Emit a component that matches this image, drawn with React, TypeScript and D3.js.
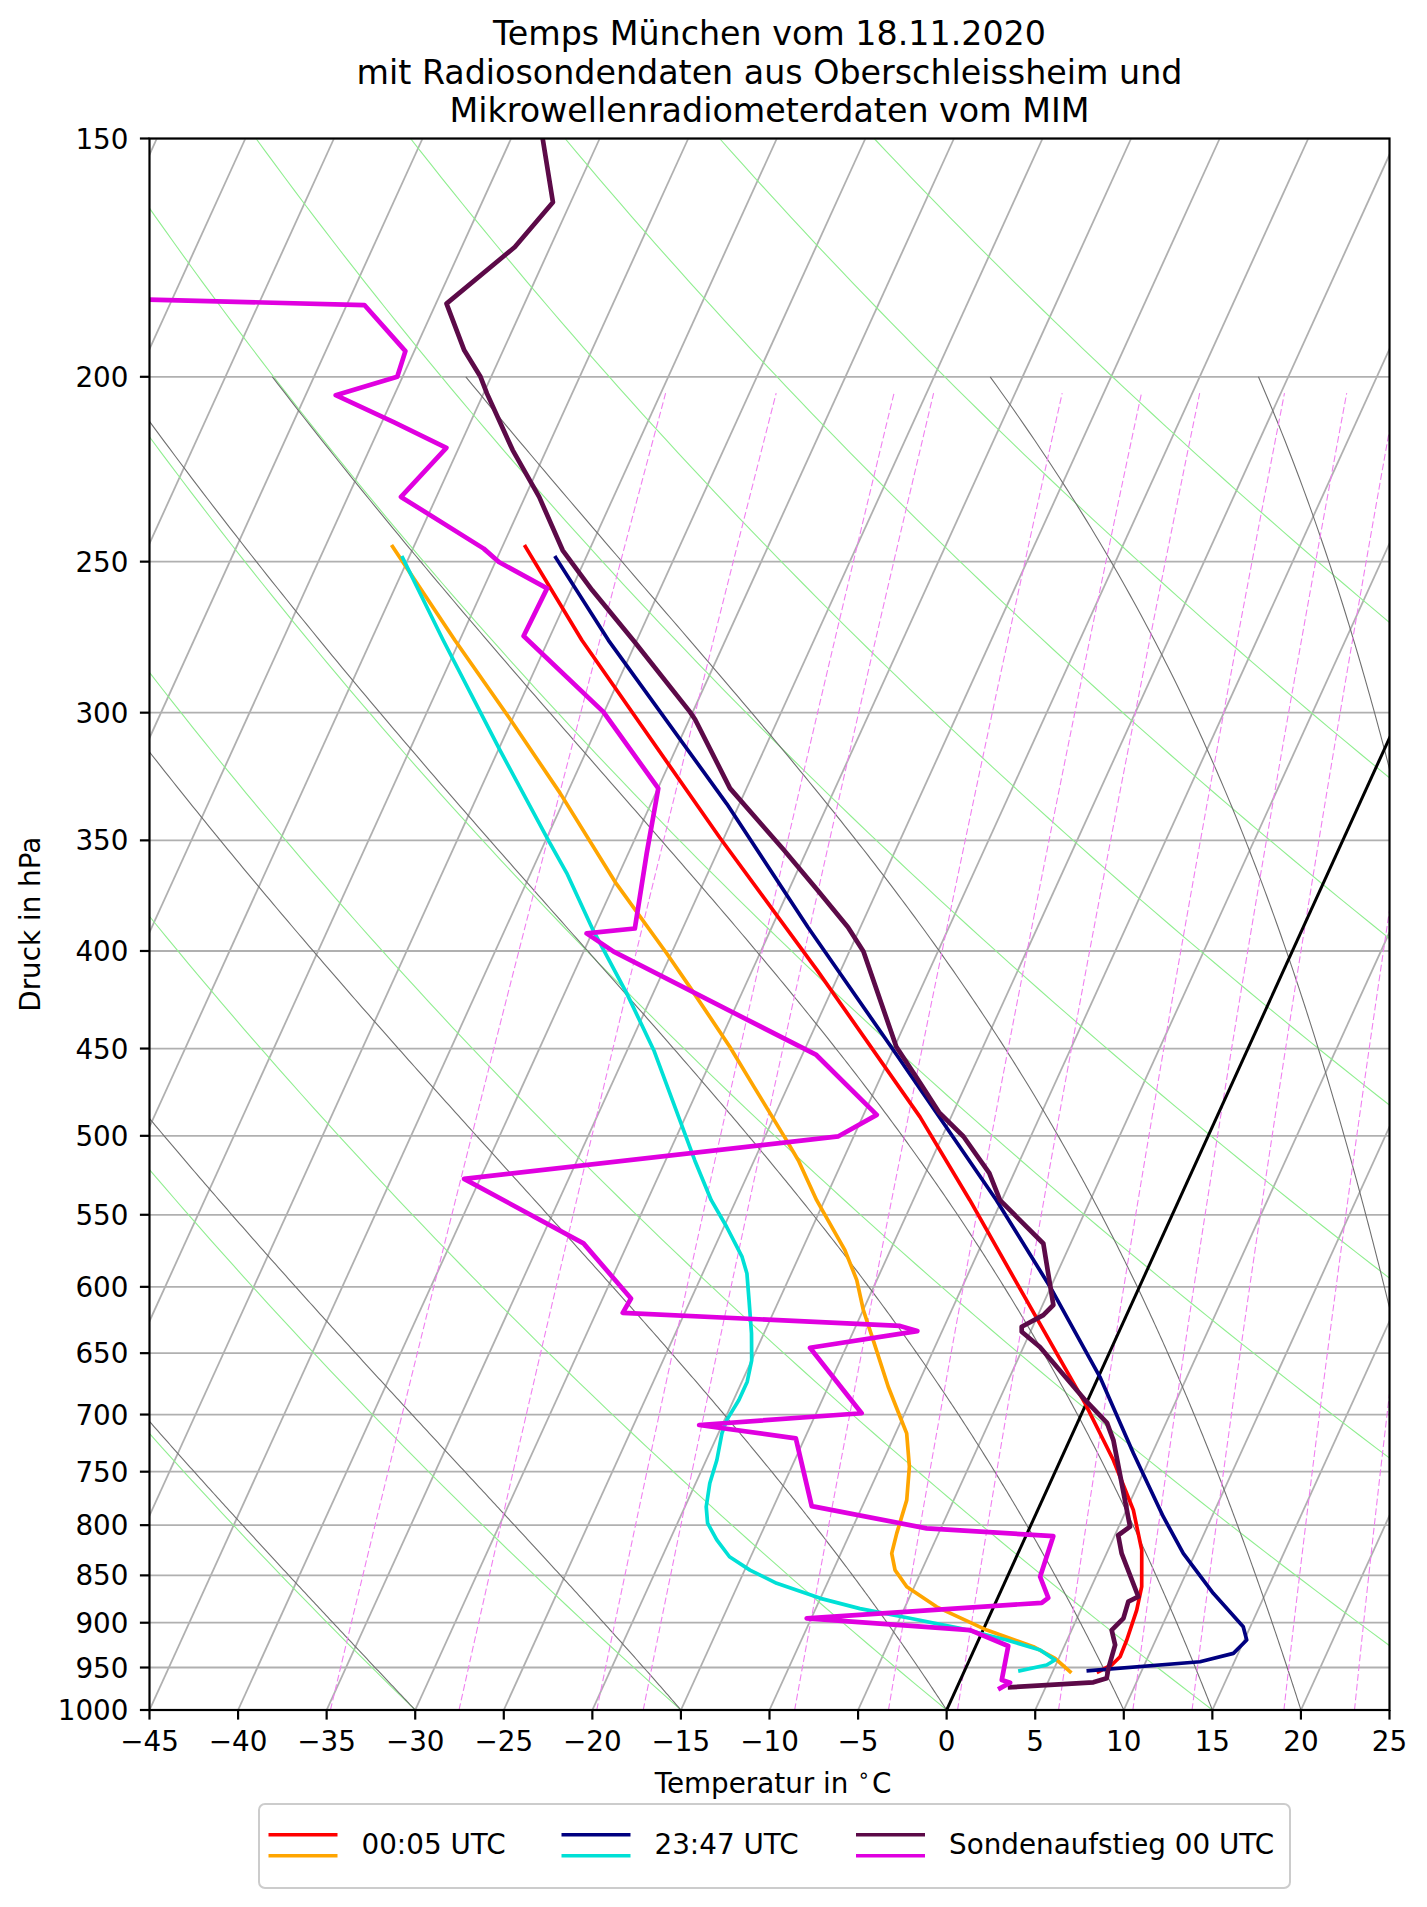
import React from 'react';
import * as d3 from 'd3';

// ---------- figure geometry ----------
const FIG_W = 1427;
const FIG_H = 1907;
const PLOT = { left: 149.5, right: 1389.5, top: 138.5, bottom: 1710 };

// ---------- axis ticks ----------
const tempTicks = [-45, -40, -35, -30, -25, -20, -15, -10, -5, 0, 5, 10, 15, 20, 25];
const pressureTicks = [150, 200, 250, 300, 350, 400, 450, 500, 550, 600, 650, 700, 750, 800, 850, 900, 950, 1000];
const isothermGrid = [-90, -85, -80, -75, -70, -65, -60, -55, -50, -45, -40, -35, -30, -25, -20, -15, -10, -5, 0, 5, 10, 15, 20, 25];

// ---------- thermodynamic reference lines ----------
const dryAdiabatTemps = [-30, -15, 0, 15, 30, 45, 60, 75, 90, 105, 120];
const moistAdiabatTemps = [-30, -15, 0, 10, 15, 20, 30, 35];
const mixingRatios = [0.2, 0.4, 0.8, 1, 2, 3, 4, 6, 8, 10, 14, 18];

// ---------- data: microwave radiometer 00:05 UTC ----------
const mwr0005TempP = [245.5, 274.9, 348.8, 409.2, 488.7, 540.4, 600, 690.6, 739.5, 785.6, 824.4, 861.7, 886.4, 919.0, 937.7, 947.1, 954.8];
const mwr0005TempT = [-53.7, -48.1, -35.25, -26.36, -16.76, -11.8, -6.8, -0.07, 2.98, 5.4, 6.9, 7.84, 8.16, 8.37, 8.42, 8.16, 7.58];
const mwr0005DewP = [245.5, 274.9, 302.5, 330.6, 368.8, 401.1, 417.7, 449.0, 471.3, 502.6, 515.1, 540.4, 574.0, 595.1, 617.0, 639.8, 676.9, 701.9, 716.1, 745.5, 776.2, 808.0, 827.7, 844.6, 861.7, 882.9, 908.0, 926.4, 939.5, 954.8];
const mwr0005DewT = [-61.2, -55.27, -50.1, -45.4, -39.9, -35.27, -33.1, -29.3, -26.9, -23.7, -22.5, -20.45, -17.57, -16.13, -14.99, -13.66, -11.61, -10.17, -9.37, -8.36, -7.65, -7.36, -7.13, -6.51, -5.42, -3.22, 0.21, 3.27, 4.79, 5.98];

// ---------- data: microwave radiometer 23:47 UTC ----------
const mwr2347TempP = [248.8, 274.9, 335.0, 388.7, 453.5, 540.4, 599.9, 668.8, 733.5, 791.9, 827.7, 868.6, 904.3, 919.0, 933.9, 943.4, 953.7];
const mwr2347TempT = [-51.7, -46.6, -35.7, -27.96, -19.66, -10.3, -5.05, 0.08, 3.94, 7.26, 9.33, 12.05, 14.6, 15.14, 14.73, 13.06, 6.99];
const mwr2347DewP = [248.8, 274.9, 313.9, 349.9, 364.1, 390.2, 420.9, 450.9, 515.1, 540.4, 558.0, 578.7, 590.4, 609.6, 634.7, 655.6, 672.8, 687.8, 704.5, 716.1, 739.5, 760.6, 782.4, 798.1, 814.4, 831.1, 844.6, 858.2, 873.9, 884.8, 895.2, 906.1, 919.0, 930.1, 941.4, 947.1, 953.7];
const mwr2347DewT = [-60.35, -55.93, -49.9, -44.86, -42.97, -40.0, -36.5, -33.5, -28.35, -26.4, -24.85, -23.2, -22.5, -21.7, -20.7, -20.0, -19.7, -19.7, -19.87, -19.8, -19.4, -19.2, -18.8, -18.3, -17.35, -16.2, -14.7, -12.85, -10.0, -7.5, -4.43, -1.34, 1.59, 3.73, 4.83, 4.49, 3.13];

// ---------- data: radiosonde 00 UTC ----------
const sondeTempP = [150.1, 162.0, 171.0, 183.1, 193.7, 200, 204.1, 218.5, 231.2, 246.6, 258.8, 274.9, 299.7, 302.5, 328.7, 353.9, 371.4, 388.7, 400.3, 449.0, 469.3, 486.0, 500.4, 523.0, 540.4, 569.4, 613.3, 620.8, 629.6, 633.4, 645.2, 687.8, 707.1, 721.9, 801.5, 809.8, 827.7, 872.2, 877.4, 895.2, 908.0, 924.5, 950.9, 962.5, 967.1, 972.9];
const sondeTempT = [-63.2, -61.0, -62.0, -64.4, -62.2, -60.6, -59.8, -56.9, -54.2, -51.5, -48.8, -45.2, -40.16, -39.67, -35.93, -31.34, -28.42, -25.7, -24.2, -19.9, -17.6, -15.8, -13.8, -11.4, -10.1, -6.54, -4.39, -4.7, -5.62, -5.49, -4.07, -0.16, 1.67, 2.47, 5.64, 5.19, 5.85, 7.91, 7.47, 7.62, 7.26, 7.84, 8.06, 8.22, 7.57, 3.0];
const sondeDewP = [181.1, 183.4, 193.9, 200, 204.5, 211.3, 217.9, 231.2, 246.1, 250.1, 258.2, 273.5, 299.7, 328.7, 355.6, 389.3, 391.6, 400.3, 453.5, 487.5, 500.3, 526.7, 569.3, 608.5, 619.1, 629.0, 632.9, 645.8, 698.9, 708.9, 720.4, 781.8, 803.1, 810.6, 851.4, 873.3, 878.6, 895.2, 908.0, 925.6, 964.4, 967.6, 974.1];
const sondeDewT = [-92.7, -69.0, -65.5, -65.3, -68.3, -64.3, -60.7, -62.0, -56.0, -54.8, -51.4, -51.5, -45.05, -39.98, -38.96, -37.7, -40.3, -38.3, -24.2, -19.25, -20.86, -40.9, -32.5, -28.4, -28.5, -12.51, -11.4, -17.03, -12.43, -21.3, -15.5, -12.86, -5.8, 1.55, 1.85, 2.85, 2.61, -10.26, -0.73, 1.83, 2.34, 2.88, 2.46];

// ---------- legend ----------
const legendLabels = ['00:05 UTC', '23:47 UTC', 'Sondenaufstieg 00 UTC'];
const legendTempColors = ['#ff0000', '#000080', '#5c0a48'];
const legendDewColors = ['#ffa500', '#00e0d6', '#e000e0'];

// ---------- scales ----------
const xScale = d3.scaleLinear().domain([-45, 25]).range([PLOT.left, PLOT.right]);
const yScale = d3.scaleLog().domain([1000, 150]).range([PLOT.bottom, PLOT.top]);
const SKEW = Math.tan((30 * Math.PI) / 180) * (PLOT.right - PLOT.left) / (PLOT.bottom - PLOT.top);
const sx = (T: number, p: number) => xScale(T) + (PLOT.bottom - yScale(p)) * SKEW;

// ---------- thermodynamics ----------
const Rd = 287.04749;
const Cpd = 1004.6662;
const Lv = 2.50084e6;
const EPS = 0.6219569;
const KAPPA = Rd / Cpd;

const satVap = (Tk: number) => {
  const t = Tk - 273.15;
  return 6.112 * Math.exp((17.67 * t) / (t + 243.5));
};
const satMix = (p: number, Tk: number) => {
  const e = satVap(Tk);
  return (EPS * e) / (p - e);
};
const moistGrad = (p: number, Tk: number) => {
  const rs = satMix(p, Tk);
  return (Rd * Tk + Lv * rs) / (Cpd + (Lv * Lv * rs * EPS) / (Rd * Tk * Tk)) / p;
};
function moistAdiabat(t0: number, pTop: number): [number, number][] {
  const pts: [number, number][] = [];
  let T = t0 + 273.15;
  let p = 1000;
  pts.push([p, t0]);
  while (p > pTop + 1e-9) {
    const h = Math.max(-2, pTop - p);
    const k1 = moistGrad(p, T);
    const k2 = moistGrad(p + h / 2, T + (h / 2) * k1);
    const k3 = moistGrad(p + h / 2, T + (h / 2) * k2);
    const k4 = moistGrad(p + h, T + h * k3);
    T += (h / 6) * (k1 + 2 * k2 + 2 * k3 + k4);
    p += h;
    pts.push([p, T - 273.15]);
  }
  return pts;
}
const logLevels = (p0: number, p1: number, n: number) =>
  d3.range(n + 1).map((i) => p0 * Math.pow(p1 / p0, i / n));
function dryAdiabat(t0: number): [number, number][] {
  return logLevels(1000, 150, 120).map((p) => [p, (t0 + 273.15) * Math.pow(p / 1000, KAPPA) - 273.15]);
}
function mixingLine(wgkg: number, pTop: number): [number, number][] {
  const w = wgkg / 1000;
  return logLevels(1000, pTop, 60).map((p) => {
    const e = (w * p) / (EPS + w);
    const l = Math.log(e / 6.112);
    return [p, (243.5 * l) / (17.67 - l)];
  });
}

const pathGen = d3
  .line<[number, number]>()
  .x((d) => sx(d[1], d[0]))
  .y((d) => yScale(d[0]));

const zipPT = (P: number[], T: number[]): [number, number][] => P.map((p, i) => [p, T[i]]);

const FONT = "'DejaVu Sans', 'Liberation Sans', sans-serif";
const TICK_FS = 27.8;
const TITLE_FS = 33.3;
const minus = (v: number) => (v < 0 ? '\u2212' + Math.abs(v) : String(v));

export default function App() {
  const series = [
    { d: zipPT(mwr0005TempP, mwr0005TempT), c: legendTempColors[0], w: 3.7 },
    { d: zipPT(mwr0005DewP, mwr0005DewT), c: legendDewColors[0], w: 3.7 },
    { d: zipPT(mwr2347TempP, mwr2347TempT), c: legendTempColors[1], w: 3.7 },
    { d: zipPT(mwr2347DewP, mwr2347DewT), c: legendDewColors[1], w: 3.7 },
    { d: zipPT(sondeTempP, sondeTempT), c: legendTempColors[2], w: 4.7 },
    { d: zipPT(sondeDewP, sondeDewT), c: legendDewColors[2], w: 4.7 },
  ];
  const cx = (PLOT.left + PLOT.right) / 2;
  const cy = (PLOT.top + PLOT.bottom) / 2;
  const legendX = [268.5, 561.5, 856];

  return (
    <svg
      width={FIG_W}
      height={FIG_H}
      viewBox={`0 0 ${FIG_W} ${FIG_H}`}
      style={{ position: 'absolute', left: 0, top: 0, background: '#fff' }}
      fontFamily={FONT}
    >
      <defs>
        <clipPath id="plotClip">
          <rect x={PLOT.left} y={PLOT.top} width={PLOT.right - PLOT.left} height={PLOT.bottom - PLOT.top} />
        </clipPath>
      </defs>
      <rect x={0} y={0} width={FIG_W} height={FIG_H} fill="#fff" />

      <g clipPath="url(#plotClip)">
        {pressureTicks.map((p) => (
          <line key={'hg' + p} x1={PLOT.left} x2={PLOT.right} y1={yScale(p)} y2={yScale(p)} stroke="#b0b0b0" strokeWidth={1.8} />
        ))}
        {isothermGrid.map((t) => (
          <line key={'ig' + t} x1={sx(t, 1000)} y1={yScale(1000)} x2={sx(t, 150)} y2={yScale(150)} stroke="#b0b0b0" strokeWidth={1.8} />
        ))}
        {dryAdiabatTemps.map((t) => (
          <path key={'da' + t} d={pathGen(dryAdiabat(t)) || ''} fill="none" stroke="#90ee90" strokeWidth={1.1} />
        ))}
        {moistAdiabatTemps.map((t) => (
          <path key={'ma' + t} d={pathGen(moistAdiabat(t, 200)) || ''} fill="none" stroke="#707070" strokeWidth={1.1} />
        ))}
        {mixingRatios.map((w) => (
          <path key={'mr' + w} d={pathGen(mixingLine(w, 204)) || ''} fill="none" stroke="#f080f0" strokeWidth={1.1} strokeDasharray="6.8 3" />
        ))}
        <line x1={sx(0, 1000)} y1={yScale(1000)} x2={sx(0, 150)} y2={yScale(150)} stroke="#000" strokeWidth={3} />
        {series.map((s, i) => (
          <path key={'s' + i} d={pathGen(s.d) || ''} fill="none" stroke={s.c} strokeWidth={s.w} strokeLinejoin="round" strokeLinecap="square" />
        ))}
      </g>

      <rect x={PLOT.left} y={PLOT.top} width={PLOT.right - PLOT.left} height={PLOT.bottom - PLOT.top} fill="none" stroke="#000" strokeWidth={2.2} />

      {tempTicks.map((t) => (
        <g key={'xt' + t}>
          <line x1={xScale(t)} x2={xScale(t)} y1={PLOT.bottom} y2={PLOT.bottom + 9.6} stroke="#000" strokeWidth={2.2} />
          <text x={xScale(t)} y={1751} fontSize={TICK_FS} textAnchor="middle" fill="#000">
            {minus(t)}
          </text>
        </g>
      ))}
      {pressureTicks.map((p) => (
        <g key={'yt' + p}>
          <line x1={PLOT.left - 9.6} x2={PLOT.left} y1={yScale(p)} y2={yScale(p)} stroke="#000" strokeWidth={2.2} />
          <text x={128.5} y={yScale(p) + 10} fontSize={TICK_FS} textAnchor="end" fill="#000">
            {p}
          </text>
        </g>
      ))}

      <text x={773} y={1793} fontSize={TICK_FS} textAnchor="middle" fill="#000">
        Temperatur in
        <tspan fontSize={20} dx={9} dy={-11}>∘</tspan>
        <tspan dx={2} dy={11}>C</tspan>
      </text>
      <text transform={`translate(40, ${cy}) rotate(-90)`} fontSize={TICK_FS} textAnchor="middle" fill="#000">
        Druck in hPa
      </text>

      <text x={cx} y={45.3} fontSize={TITLE_FS} textAnchor="middle" fill="#000">
        Temps München vom 18.11.2020
      </text>
      <text x={cx} y={83.5} fontSize={TITLE_FS} textAnchor="middle" fill="#000">
        mit Radiosondendaten aus Oberschleissheim und
      </text>
      <text x={cx} y={121.7} fontSize={TITLE_FS} textAnchor="middle" fill="#000">
        Mikrowellenradiometerdaten vom MIM
      </text>

      <rect x={259} y={1804} width={1031} height={84} rx={6} ry={6} fill="#fff" fillOpacity={0.8} stroke="#cccccc" strokeWidth={2} />
      {legendLabels.map((lab, i) => (
        <g key={'lg' + i}>
          <line x1={legendX[i]} x2={legendX[i] + 69} y1={1834.7} y2={1834.7} stroke={legendTempColors[i]} strokeWidth={3.6} />
          <line x1={legendX[i]} x2={legendX[i] + 69} y1={1855.7} y2={1855.7} stroke={legendDewColors[i]} strokeWidth={3.6} />
          <text x={legendX[i] + 93} y={1853.5} fontSize={TICK_FS} fill="#000">
            {lab}
          </text>
        </g>
      ))}
    </svg>
  );
}
